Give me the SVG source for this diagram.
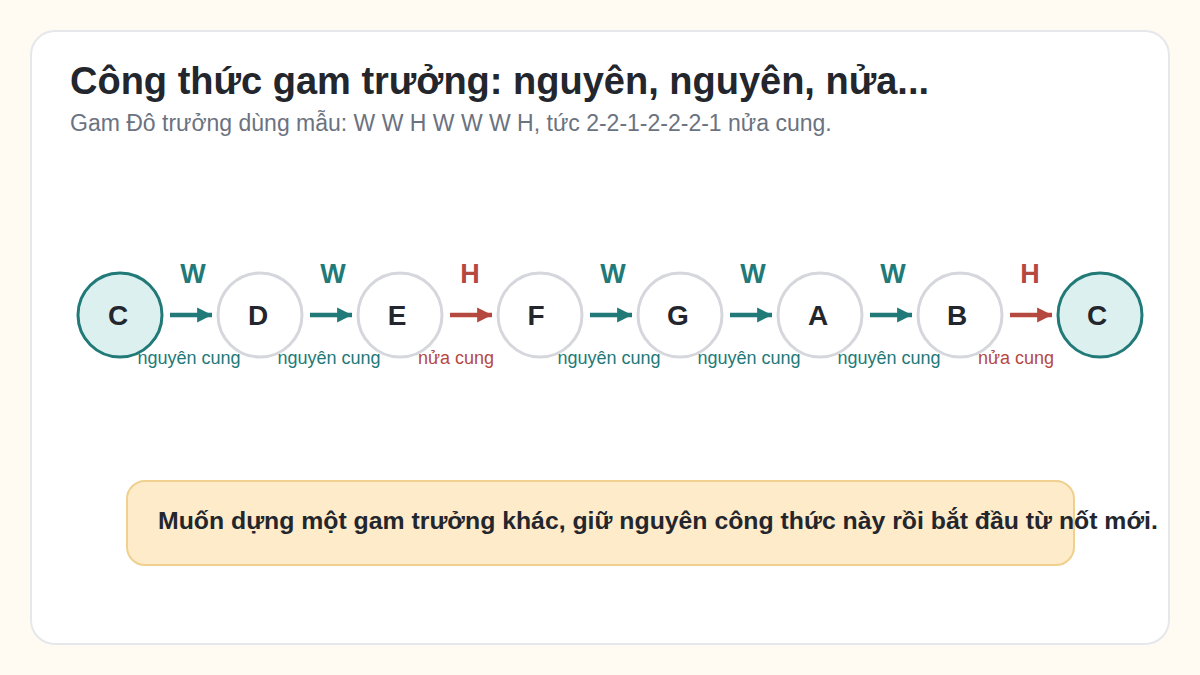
<svg xmlns="http://www.w3.org/2000/svg" width="1200" height="675" viewBox="0 0 1200 675">
<defs>
<style>
.title{font-family:"Liberation Sans",Arial,sans-serif;font-weight:bold;font-size:38px;fill:#23262d}
.sub{font-family:"Liberation Sans",Arial,sans-serif;font-size:23px;fill:#6b7280}
.node{fill:#ffffff;stroke:#d5d7dd;stroke-width:3}
.tonic{fill:#dcf1ef;stroke:#217a78;stroke-width:3}
.nl{font-family:"Liberation Sans",Arial,sans-serif;font-weight:bold;font-size:28px;fill:#23262d;text-anchor:middle}
.stepW{font-family:"Liberation Sans",Arial,sans-serif;font-weight:bold;font-size:27px;fill:#217a78;text-anchor:middle}
.stepH{font-family:"Liberation Sans",Arial,sans-serif;font-weight:bold;font-size:27px;fill:#b5483f;text-anchor:middle}
.capW{font-family:"Liberation Sans",Arial,sans-serif;font-size:18px;fill:#217a78;text-anchor:middle}
.capH{font-family:"Liberation Sans",Arial,sans-serif;font-size:18px;fill:#b5483f;text-anchor:middle}
.aW{stroke:#217a78;stroke-width:4.5;fill:none;marker-end:url(#mW)}
.aH{stroke:#b5483f;stroke-width:4.5;fill:none;marker-end:url(#mH)}
.note{font-family:"Liberation Sans",Arial,sans-serif;font-weight:bold;font-size:24.8px;fill:#23262d}
</style>
<marker id="mW" viewBox="0 0 10 10" refX="10" refY="5" markerWidth="3.3" markerHeight="3.8" markerUnits="strokeWidth" orient="auto"><path d="M0,0 L10,5 L0,10 z" fill="#217a78"/></marker>
<marker id="mH" viewBox="0 0 10 10" refX="10" refY="5" markerWidth="3.3" markerHeight="3.8" markerUnits="strokeWidth" orient="auto"><path d="M0,0 L10,5 L0,10 z" fill="#b5483f"/></marker>
</defs>
<rect width="1200" height="675" fill="#fffaf2"/>
<rect x="31" y="31" width="1138" height="613" rx="24" fill="#ffffff" stroke="#e5e7eb" stroke-width="2"/>
<text class="title" x="70" y="94">Công thức gam trưởng: nguyên, nguyên, nửa...</text>
<text class="sub" x="70" y="131">Gam Đô trưởng dùng mẫu: W W H W W W H, tức 2-2-1-2-2-2-1 nửa cung.</text>

<g id="connectors">
<line class="aW" x1="170" y1="315" x2="212" y2="315"/>
<line class="aW" x1="310" y1="315" x2="352" y2="315"/>
<line class="aH" x1="450" y1="315" x2="492" y2="315"/>
<line class="aW" x1="590" y1="315" x2="632" y2="315"/>
<line class="aW" x1="730" y1="315" x2="772" y2="315"/>
<line class="aW" x1="870" y1="315" x2="912" y2="315"/>
<line class="aH" x1="1010" y1="315" x2="1052" y2="315"/>
<text class="stepW" x="193" y="283">W</text>
<text class="stepW" x="333" y="283">W</text>
<text class="stepH" x="470" y="283">H</text>
<text class="stepW" x="613" y="283">W</text>
<text class="stepW" x="753" y="283">W</text>
<text class="stepW" x="893" y="283">W</text>
<text class="stepH" x="1030" y="283">H</text>
</g>

<g id="node-c1"><circle class="tonic" cx="120" cy="315" r="42"/><text class="nl" x="118" y="325">C</text></g>
<g id="node-d"><circle class="node" cx="260" cy="315" r="42"/><text class="nl" x="258" y="325">D</text></g>
<g id="node-e"><circle class="node" cx="400" cy="315" r="42"/><text class="nl" x="397" y="325">E</text></g>
<g id="node-f"><circle class="node" cx="540" cy="315" r="42"/><text class="nl" x="536" y="325">F</text></g>
<g id="node-g"><circle class="node" cx="680" cy="315" r="42"/><text class="nl" x="678" y="325">G</text></g>
<g id="node-a"><circle class="node" cx="820" cy="315" r="42"/><text class="nl" x="818" y="325">A</text></g>
<g id="node-b"><circle class="node" cx="960" cy="315" r="42"/><text class="nl" x="957" y="325">B</text></g>
<g id="node-c2"><circle class="tonic" cx="1100" cy="315" r="42"/><text class="nl" x="1097" y="325">C</text></g>

<g id="captions">
<text class="capW" x="189" y="364">nguyên cung</text>
<text class="capW" x="329" y="364">nguyên cung</text>
<text class="capH" x="456" y="364">nửa cung</text>
<text class="capW" x="609" y="364">nguyên cung</text>
<text class="capW" x="749" y="364">nguyên cung</text>
<text class="capW" x="889" y="364">nguyên cung</text>
<text class="capH" x="1016" y="364">nửa cung</text>
</g>

<g id="note">
<rect x="127" y="481" width="947" height="84" rx="18" fill="#feebc9" stroke="#efd08e" stroke-width="2"/>
<text class="note" x="158" y="529">Muốn dựng một gam trưởng khác, giữ nguyên công thức này rồi bắt đầu từ nốt mới.</text>
</g>
</svg>
